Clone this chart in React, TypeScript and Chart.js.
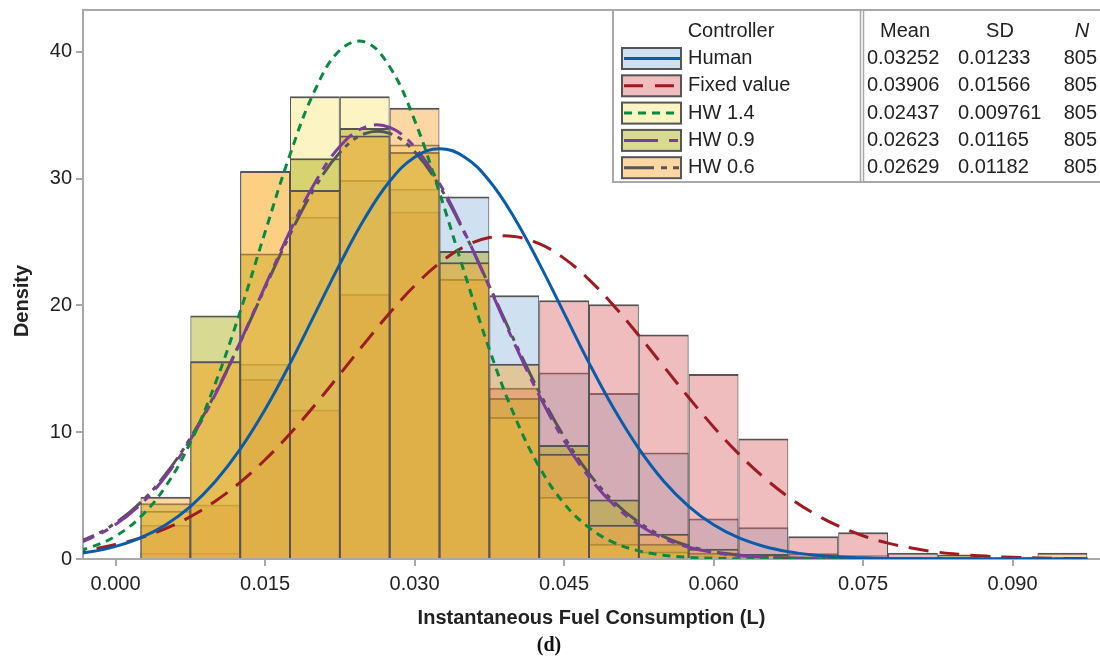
import React, { useEffect, useRef } from 'react';
import { Chart, registerables } from 'chart.js';

Chart.register(...registerables);

// ---------- data ----------
const binCenters = [0.005, 0.01, 0.015, 0.02, 0.025, 0.03, 0.035, 0.04, 0.045, 0.05, 0.055, 0.06, 0.065, 0.07, 0.075, 0.08, 0.085, 0.09, 0.095];
const histHuman = [0.5, 0.5, 15.4, 27.0, 29.9, 29.2, 28.6, 20.8, 14.7, 13.1, 8.4, 3.2, 2.5, 0.45, 0.3, 0.1, 0, 0, 0];
const histFixed = [2.7, 4.3, 14.2, 11.8, 20.9, 27.4, 22.1, 13.5, 20.4, 20.1, 17.7, 14.6, 9.5, 1.8, 2.1, 0.5, 0.2, 0, 0];
const histHW14 = [3.8, 15.6, 30.6, 36.5, 36.5, 32.7, 22.1, 11.2, 4.9, 1.2, 0.6, 0.2, 0.1, 0, 0, 0, 0, 0, 0];
const histHW09 = [4.4, 19.2, 24.1, 31.6, 34.0, 32.1, 24.3, 12.7, 9.0, 4.7, 1.2, 0.5, 0.3, 0.1, 0, 0, 0.35, 0, 0];
const histHW06 = [4.9, 15.6, 30.6, 29.1, 33.4, 35.6, 23.4, 15.4, 8.3, 2.7, 2.0, 0.8, 0.4, 0.2, 0.1, 0, 0, 0, 0.5];

const curveX = [-0.005, -0.0025, 0, 0.0025, 0.005, 0.0075, 0.01, 0.0125, 0.015, 0.0175, 0.02, 0.0225, 0.025, 0.0275, 0.03, 0.0325, 0.035, 0.0375, 0.04, 0.0425, 0.045, 0.0475, 0.05, 0.0525, 0.055, 0.0575, 0.06, 0.0625, 0.065, 0.0675, 0.07, 0.0725, 0.075, 0.0775, 0.08, 0.0825, 0.085, 0.0875, 0.09, 0.0925, 0.095, 0.0975];
const curveHuman = [0.32, 0.57, 1.0, 1.67, 2.68, 4.13, 6.11, 8.66, 11.79, 15.41, 19.33, 23.26, 26.87, 29.79, 31.69, 32.36, 31.71, 29.83, 26.92, 23.32, 19.39, 15.47, 11.85, 8.71, 6.14, 4.16, 2.7, 1.68, 1.01, 0.58, 0.32, 0.17, 0.09, 0.04, 0.02, 0.01, 0, 0, 0, 0, 0, 0];
const curveFixed = [0.49, 0.75, 1.14, 1.67, 2.39, 3.34, 4.56, 6.05, 7.83, 9.88, 12.15, 14.57, 17.03, 19.4, 21.55, 23.34, 24.64, 25.35, 25.43, 24.87, 23.71, 22.04, 19.96, 17.63, 15.18, 12.74, 10.42, 8.31, 6.46, 4.9, 3.62, 2.61, 1.83, 1.25, 0.84, 0.54, 0.35, 0.21, 0.13, 0.08, 0.04, 0.02];
const curveHW14 = [0.44, 0.93, 1.81, 3.32, 5.71, 9.18, 13.83, 19.51, 25.78, 31.9, 36.97, 40.13, 40.78, 38.82, 34.61, 28.89, 22.59, 16.54, 11.34, 7.28, 4.38, 2.47, 1.3, 0.64, 0.3, 0.13, 0.05, 0.02, 0.01, 0, 0, 0, 0, 0, 0, 0, 0, 0, 0, 0, 0, 0];
const curveHW09 = [0.94, 1.64, 2.72, 4.3, 6.51, 9.4, 12.97, 17.1, 21.52, 25.86, 29.68, 32.53, 34.05, 34.04, 32.49, 29.62, 25.79, 21.45, 17.03, 12.91, 9.35, 6.47, 4.27, 2.7, 1.62, 0.93, 0.51, 0.27, 0.14, 0.06, 0.03, 0.01, 0.01, 0, 0, 0, 0, 0, 0, 0, 0, 0];
const curveHW06 = [1.02, 1.74, 2.85, 4.45, 6.67, 9.54, 13.06, 17.09, 21.39, 25.6, 29.29, 32.06, 33.55, 33.57, 32.13, 29.4, 25.73, 21.53, 17.22, 13.18, 9.64, 6.75, 4.51, 2.89, 1.77, 1.03, 0.58, 0.31, 0.16, 0.08, 0.04, 0.02, 0.01, 0, 0, 0, 0, 0, 0, 0, 0, 0];

const controllers = ['Human', 'Fixed value', 'HW 1.4', 'HW 0.9', 'HW 0.6'];
const means = ['0.03252', '0.03906', '0.02437', '0.02623', '0.02629'];
const sds = ['0.01233', '0.01566', '0.009761', '0.01165', '0.01182'];
const ns = ['805', '805', '805', '805', '805'];
const legendHeaders = ['Controller', 'Mean', 'SD', 'N'];

const xTickValues = [0, 0.015, 0.03, 0.045, 0.06, 0.075, 0.09];
const xTickLabels = ['0.000', '0.015', '0.030', '0.045', '0.060', '0.075', '0.090'];
const yTickValues = [0, 10, 20, 30, 40];
const yTickLabels = ['0', '10', '20', '30', '40'];

const xTitle = 'Instantaneous Fuel Consumption (L)';
const yTitle = 'Density';
const caption = '(d)';

// ---------- styles ----------
const FONT = '"Liberation Sans", Arial, Helvetica, sans-serif';
const fills = ['rgba(148,186,222,0.45)', 'rgba(219,108,108,0.45)', 'rgba(251,231,122,0.45)', 'rgba(168,171,13,0.45)', 'rgba(248,164,52,0.45)'];
const lineColors = ['#0a5cab', '#9c1c22', '#0a8a40', '#7b3d99', '#555555'];
const dashes: number[][] = [[], [20, 11], [8, 6], [30, 8, 8, 8], [30, 6, 5, 6, 5, 6]];
const legendDashes: number[][] = [[], [19, 12], [8, 6], [34, 11, 9, 11], [30, 7, 6, 6, 6, 7]];
const AXIS_GRAY = '#a8a8a8';

const histSeries = [histHuman, histFixed, histHW14, histHW09, histHW06];
const curveSeries = [curveHuman, curveFixed, curveHW14, curveHW09, curveHW06];

const overlayPlugin = {
  id: 'overlay',
  afterDraw(chart: any) {
    const ctx: CanvasRenderingContext2D = chart.ctx;
    const area = chart.chartArea;
    ctx.save();
    // top frame line
    ctx.strokeStyle = AXIS_GRAY;
    ctx.lineWidth = 2;
    ctx.beginPath();
    ctx.moveTo(area.left - 1, area.top);
    ctx.lineTo(area.right + 2, area.top);
    ctx.stroke();

    // axis titles
    ctx.fillStyle = '#222';
    ctx.font = `bold 20px ${FONT}`;
    ctx.textAlign = 'center';
    ctx.textBaseline = 'middle';
    ctx.fillText(xTitle, (area.left + area.right) / 2, 618);
    ctx.save();
    ctx.translate(22, 301);
    ctx.rotate(-Math.PI / 2);
    ctx.fillText(yTitle, 0, 0);
    ctx.restore();

    // caption
    ctx.font = 'bold 20px "Liberation Serif", "DejaVu Serif", serif';
    ctx.fillStyle = '#111';
    ctx.fillText(caption, 549, 646);

    // legend table
    const lx = 613;
    const ly = area.top;
    const lb = 182;
    ctx.fillStyle = '#fff';
    ctx.fillRect(lx, ly, 1100 - lx, lb - ly);
    ctx.strokeStyle = AXIS_GRAY;
    ctx.lineWidth = 2;
    ctx.strokeRect(lx, ly, 1100 - lx + 10, lb - ly);
    ctx.lineWidth = 1.5;
    ctx.beginPath();
    ctx.moveTo(860.5, ly); ctx.lineTo(860.5, lb);
    ctx.moveTo(863.5, ly); ctx.lineTo(863.5, lb);
    ctx.stroke();

    ctx.fillStyle = '#222';
    ctx.font = `20px ${FONT}`;
    ctx.textBaseline = 'middle';
    ctx.textAlign = 'center';
    ctx.fillText(legendHeaders[0], 731, 31);
    ctx.fillText(legendHeaders[1], 905, 31);
    ctx.fillText(legendHeaders[2], 1000, 31);
    ctx.font = `italic 20px ${FONT}`;
    ctx.fillText(legendHeaders[3], 1082, 31);

    for (let i = 0; i < controllers.length; i++) {
      const cy = 58.5 + i * 27.3;
      ctx.fillStyle = '#fff';
      ctx.fillRect(622, cy - 10.5, 59, 21);
      ctx.fillStyle = fills[i];
      ctx.fillRect(622, cy - 10.5, 59, 21);
      ctx.strokeStyle = '#555';
      ctx.lineWidth = 2;
      ctx.setLineDash([]);
      ctx.strokeRect(622, cy - 10.5, 59, 21);
      ctx.strokeStyle = lineColors[i];
      ctx.lineWidth = 3;
      ctx.setLineDash(legendDashes[i]);
      ctx.beginPath();
      ctx.moveTo(624, cy);
      ctx.lineTo(680, cy);
      ctx.stroke();
      ctx.setLineDash([]);

      ctx.fillStyle = '#222';
      ctx.font = `20px ${FONT}`;
      ctx.textAlign = 'left';
      ctx.fillText(controllers[i], 688, cy);
      ctx.fillText(means[i], 867, cy);
      ctx.fillText(sds[i], 958, cy);
      ctx.textAlign = 'right';
      ctx.fillText(ns[i], 1097, cy);
    }
    ctx.restore();
  },
};

export default function App() {
  const ref = useRef<HTMLCanvasElement>(null);

  useEffect(() => {
    const canvas = ref.current;
    if (!canvas) return;
    Chart.defaults.font.family = FONT;

    const barDatasets = histSeries.map((vals, i) => ({
      type: 'bar' as const,
      label: controllers[i],
      data: binCenters.map((x, k) => ({ x, y: vals[k] })),
      backgroundColor: fills[i],
      borderColor: '#555555',
      borderWidth: { top: 2, left: 1, right: 1, bottom: 0 },
      borderSkipped: 'start' as const,
      grouped: false,
      barPercentage: 1,
      categoryPercentage: 1,
      inflateAmount: 0,
      order: 14 - i,
    }));

    const lineOrder = [0, 2, 1, 3, 4];
    const lineDatasets = curveSeries.map((vals, i) => ({
      type: 'line' as const,
      label: controllers[i] + ' curve',
      data: curveX.map((x, k) => ({ x, y: vals[k] })),
      borderColor: lineColors[i],
      borderWidth: 3,
      borderDash: dashes[i],
      pointRadius: 0,
      fill: false,
      tension: 0.4,
      order: lineOrder[i],
    }));

    const chart = new Chart(canvas, {
      type: 'bar',
      data: { datasets: [...barDatasets, ...lineDatasets] as any },
      plugins: [overlayPlugin],
      options: {
        animation: false,
        responsive: false,
        devicePixelRatio: 1,
        events: [],
        layout: { padding: { top: 10, right: 0, left: 0, bottom: 0 } },
        plugins: { legend: { display: false }, tooltip: { enabled: false }, title: { display: false } },
        scales: {
          x: {
            type: 'linear',
            min: -0.00327,
            max: 0.09877,
            offset: false,
            afterFit: (s: any) => { s.height = 101; s.paddingLeft = 0; s.paddingRight = 0; },
            afterBuildTicks: (s: any) => { s.ticks = xTickValues.map((v) => ({ value: v })); },
            grid: { drawOnChartArea: false, drawTicks: true, tickLength: 7, color: AXIS_GRAY, lineWidth: 2, offset: false },
            border: { display: true, color: AXIS_GRAY, width: 2 },
            ticks: {
              autoSkip: false, maxRotation: 0, minRotation: 0, padding: 6, color: '#222',
              font: { size: 20, family: FONT },
              callback: (_v: any, i: number) => xTickLabels[i],
            },
          },
          y: {
            type: 'linear',
            min: 0,
            max: 43.3,
            afterFit: (s: any) => { s.width = 83; s.paddingTop = 0; s.paddingBottom = 0; },
            afterBuildTicks: (s: any) => { s.ticks = yTickValues.map((v) => ({ value: v })); },
            grid: { drawOnChartArea: false, drawTicks: true, tickLength: 7, color: AXIS_GRAY, lineWidth: 2 },
            border: { display: true, color: AXIS_GRAY, width: 2 },
            ticks: {
              padding: 4, color: '#222',
              font: { size: 20, family: FONT },
              callback: (_v: any, i: number) => yTickLabels[i],
            },
          },
        },
      } as any,
    });
    return () => chart.destroy();
  }, []);

  return (
    <div style={{ position: 'fixed', left: 0, top: 0, width: 1100, height: 660, background: '#fff' }}>
      <canvas ref={ref} width={1100} height={660} style={{ display: 'block', width: 1100, height: 660 }} />
    </div>
  );
}
